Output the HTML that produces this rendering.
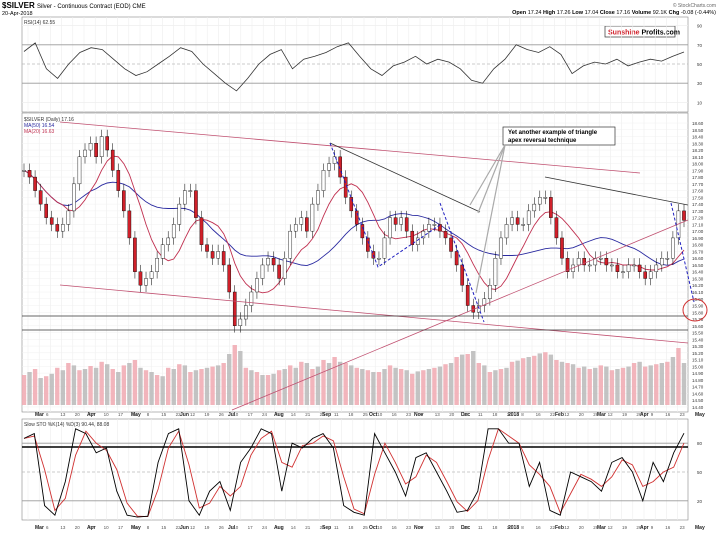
<!DOCTYPE html>
<html><head><meta charset="utf-8"><style>
body{margin:0;background:#fff;font-family:"Liberation Sans",sans-serif}
svg text{font-family:"Liberation Sans",sans-serif}
</style></head><body>
<svg id="c" width="720" height="532" xmlns="http://www.w3.org/2000/svg">
<rect width="720" height="532" fill="#fff"/>
<text x="2" y="8" font-size="8" font-weight="bold">$SILVER <tspan font-weight="normal" font-size="6">Silver - Continuous Contract (EOD) CME</tspan></text>
<text x="2" y="15" font-size="5.5">20-Apr-2018</text>
<text x="716" y="7" font-size="5" fill="#666" text-anchor="end">© StockCharts.com</text>
<text x="716" y="14" font-size="5.5" text-anchor="end"><tspan font-weight="bold">Open</tspan> 17.24 <tspan font-weight="bold">High</tspan> 17.26 <tspan font-weight="bold">Low</tspan> 17.04 <tspan font-weight="bold">Close</tspan> 17.16 <tspan font-weight="bold">Volume</tspan> 92.1K <tspan font-weight="bold">Chg</tspan> -0.08 (-0.44%)</text>
<g><rect x="605" y="26" width="70" height="11" fill="#fff" stroke="#333" stroke-width="0.7"/><text x="608" y="34.5" font-size="7" font-weight="bold" fill="#d0202a">Sunshine<tspan fill="#000"> Profits.com</tspan></text></g>
<g id="grid"></g>
<g id="rsi"></g><g id="price"></g><g id="sto"></g><g id="axes"></g>
</svg>
<script>
const closes=[17.9,17.8,17.6,17.4,17.2,17.1,17.0,17.1,17.3,17.7,18.1,18.2,18.3,18.1,18.4,18.2,17.9,17.6,17.3,16.9,16.4,16.2,16.3,16.4,16.6,16.8,16.9,17.1,17.4,17.6,17.6,17.2,16.8,16.7,16.6,16.7,16.5,16.1,15.6,15.7,15.9,16.1,16.3,16.5,16.6,16.5,16.3,16.6,17.0,17.1,17.2,17.0,17.4,17.6,17.9,18.0,18.1,17.8,17.5,17.3,17.1,16.9,16.7,16.6,16.6,16.9,17.2,17.1,17.2,17.0,16.8,16.9,17.0,17.1,17.1,17.0,16.9,16.7,16.5,16.2,15.9,15.8,15.9,16.0,16.2,16.6,16.9,17.1,17.2,17.1,17.1,17.3,17.4,17.5,17.5,17.2,16.9,16.6,16.4,16.5,16.6,16.5,16.5,16.6,16.6,16.5,16.5,16.4,16.4,16.5,16.5,16.4,16.3,16.4,16.5,16.6,16.6,16.9,17.3,17.16];
const volumes=[50,55,60,45,48,52,62,58,70,66,58,60,65,62,72,68,60,55,66,70,75,62,58,55,50,48,62,60,68,66,55,58,60,62,64,66,70,85,100,90,62,58,55,50,50,52,58,60,66,62,72,70,60,64,75,70,80,72,70,66,62,60,58,55,55,60,66,62,60,58,52,56,58,60,62,64,68,70,80,84,85,90,70,66,55,58,60,62,72,74,78,80,82,86,88,84,75,72,70,68,62,64,60,62,66,64,58,60,62,64,70,72,64,66,68,70,72,80,95,70];
const rsiVals=[63,72,45,35,50,62,67,65,55,45,38,42,50,58,67,63,50,40,30,22,35,50,60,65,45,55,58,62,68,72,58,45,38,48,52,58,50,55,52,45,33,30,45,55,70,65,62,68,60,40,48,52,50,55,48,52,55,53,58,62.5];
const stoK=[85,90,15,5,40,95,90,70,75,30,5,3,4,60,90,95,20,5,30,40,10,60,75,95,90,30,80,75,85,90,75,15,8,5,90,70,50,25,65,70,50,30,8,10,30,95,95,80,80,35,60,10,5,50,45,40,30,60,65,50,20,60,40,70,90.4];
const priceTicks=[];for(let p=18.6;p>14.35;p-=0.1)priceTicks.push(+p.toFixed(2));
const rsiTicks=[90,70,50,30,10];
const stoTicks=[80,50,20];
const monthLabels=[["Mar",35],["Apr",87],["May",131],["Jun",180],["Jul",228],["Aug",274],["Sep",322],["Oct",369],["Nov",414],["Dec",461],["2018",508],["Feb",555],["Mar",597],["Apr",640],["May",695]];
const dayLabels=["6","13","20","27","10","17","24","8","15","22","12","19","26","10","17","24","7","14","21","28","11","18","25","10","16","23","6","13","20","27","11","18","26","8","16","22","12","20","26","12","19","26","9","16","23"];
const NS="http://www.w3.org/2000/svg";
const X0=24,X1=684;
function mk(tag,attrs,parent){const e=document.createElementNS(NS,tag);for(const k in attrs)e.setAttribute(k,attrs[k]);parent.appendChild(e);return e;}
function xi(i,n){return X0+i*(X1-X0)/(n-1);}
const py=p=>123+(18.6-p)*67.6;
const ry=v=>112-v*0.96;
const sy=v=>520-v*0.96;
const grid=document.getElementById('grid');
[[17,112],[113,412],[419,520]].forEach(([a,b])=>{
 const r=mk('rect',{x:22,y:a,width:666,height:b-a,fill:'none',stroke:'#888','stroke-width':0.6},grid);
 
 for(let x=28;x<688;x+=11.2)mk('line',{x1:x,x2:x,y1:a,y2:b,stroke:'#eee','stroke-width':0.6},grid);
});
priceTicks.forEach(p=>{const y=py(p);mk('line',{x1:22,x2:688,y1:y,y2:y,stroke:'#f0f0f0','stroke-width':0.5},grid);
 const t=mk('text',{x:692,y:y+2,'font-size':4.5,fill:'#333'},grid);t.textContent=p.toFixed(2);});
rsiTicks.forEach(v=>{const y=ry(v);const st=(v==70||v==30)?'#999':(v==50?'#bbb':'#eee');
 mk('line',{x1:22,x2:688,y1:y,y2:y,stroke:st,'stroke-width':0.8,'stroke-dasharray':v==50?'3,2':''},grid);
 const t=mk('text',{x:697,y:y+2,'font-size':4.5,fill:'#333'},grid);t.textContent=v;});
stoTicks.forEach(v=>{const y=sy(v);mk('line',{x1:22,x2:688,y1:y,y2:y,stroke:v==50?'#bbb':'#999','stroke-width':0.8,'stroke-dasharray':v==50?'3,2':''},grid);
 const t=mk('text',{x:697,y:y+2,'font-size':4.5,fill:'#333'},grid);t.textContent=v;});
mk('line',{x1:22,x2:688,y1:447,y2:447,stroke:'#000','stroke-width':1.4},grid);
const rg=document.getElementById('rsi');
let rt=mk('text',{x:24,y:24,'font-size':5,fill:'#333'},rg);rt.textContent='RSI(14) 62.55';
let rl=mk('polyline',{points:rsiVals.map((v,i)=>xi(i,rsiVals.length).toFixed(1)+','+ry(v).toFixed(1)).join(' '),fill:'none',stroke:'#333','stroke-width':0.8},rg);
const pg=document.getElementById('price');
let lt=mk('text',{x:24,y:121,'font-size':5,fill:'#333'},pg);lt.textContent='$SILVER (Daily) 17.16';
let l2=mk('text',{x:24,y:127,'font-size':5,fill:'#2a2aa0'},pg);l2.textContent='MA(50) 16.54';
let l3=mk('text',{x:24,y:133,'font-size':5,fill:'#c03050'},pg);l3.textContent='MA(20) 16.63';
volumes.forEach((v,i)=>{const x=xi(i,volumes.length);const h=v*0.6;
 const b=mk('rect',{x:x-2.2,y:405-h,width:4.4,height:h,fill:i%2?'#b8b8b8':'#f0a8b0',opacity:0.85},pg);
 });
function ma(n){return closes.map((c,i)=>{const s=closes.slice(Math.max(0,i-n+1),i+1);return s.reduce((a,b)=>a+b,0)/s.length;});}
[[ma(20),'#2a2aa0','ma50-line'],[ma(8),'#c03050','ma20-line']].forEach(([arr,col,nm])=>{
 const l=mk('polyline',{points:arr.map((v,i)=>xi(i,arr.length).toFixed(1)+','+py(v).toFixed(1)).join(' '),fill:'none',stroke:col,'stroke-width':0.9},pg);
 });
closes.forEach((c,i)=>{const o=i?closes[i-1]:c;const x=xi(i,closes.length);
 const hi=Math.max(o,c)+0.1,lo=Math.min(o,c)-0.1;
 mk('line',{x1:x,x2:x,y1:py(hi),y2:py(lo),stroke:'#000','stroke-width':0.5},pg);
 const r=mk('rect',{x:x-1.6,y:py(Math.max(o,c)),width:3.2,height:Math.max(1,Math.abs(py(o)-py(c))),fill:c<o?'#d0202a':'#fff',stroke:'#000','stroke-width':0.4},pg);
 });
const ann=[[60,122,640,173,'#c05070'],[60,285,688,343,'#c05070'],[330,143,480,212,'#333'],[545,177,688,205,'#333'],[232,410,688,220,'#c05070'],[22,316,688,316,'#333'],[22,330,688,330,'#333']];
ann.forEach(a=>{const l=mk('line',{x1:a[0],y1:a[1],x2:a[2],y2:a[3],stroke:a[4],'stroke-width':0.8},pg);});
mk('polyline',{points:'330,143 378,267 440,225',fill:'none',stroke:'#2020c0','stroke-width':1,'stroke-dasharray':'3,2'},pg);
mk('polyline',{points:'440,203 484,322',fill:'none',stroke:'#2020c0','stroke-width':1,'stroke-dasharray':'3,2'},pg);
mk('polyline',{points:'671,203 694,302',fill:'none',stroke:'#2020c0','stroke-width':1,'stroke-dasharray':'3,2'},pg);
let ell=mk('ellipse',{cx:695,cy:310,rx:12,ry:11,fill:'none',stroke:'#d03030','stroke-width':1},pg);
let box=mk('rect',{x:503,y:127,width:112,height:18,fill:'#fff',stroke:'#333','stroke-width':0.7},pg);
let at=mk('text',{x:508,y:134,'font-size':6,'font-weight':'bold'},pg);at.textContent='Yet another example of triangle';
let at2=mk('text',{x:508,y:142,'font-size':6,'font-weight':'bold'},pg);at2.textContent='apex reversal technique';
[[478,213],[476,293],[470,205]].forEach(p=>mk('line',{x1:p[0],y1:p[1],x2:505,y2:145,stroke:'#aaa','stroke-width':1.2},pg));
const sg=document.getElementById('sto');
let stt=mk('text',{x:24,y:426,'font-size':5,fill:'#333'},sg);stt.textContent='Slow STO %K(14) %D(3) 90.44, 88.08';
const stoD=stoK.map((v,i)=>{const s=stoK.slice(Math.max(0,i-1),i+1);return s.reduce((a,b)=>a+b,0)/s.length;});
[[stoD,'#d03030','sto-d-line'],[stoK,'#000','sto-k-line']].forEach(([arr,col,nm])=>{
 const l=mk('polyline',{points:arr.map((v,i)=>xi(i,arr.length).toFixed(1)+','+sy(v).toFixed(1)).join(' '),fill:'none',stroke:col,'stroke-width':0.9},sg);
 });
const ax=document.getElementById('axes');
[416,529].forEach(y=>{
 monthLabels.forEach(m=>{const t=mk('text',{x:m[1],y:y,'font-size':5,'font-weight':'bold',fill:'#222'},ax);t.textContent=m[0];});
 dayLabels.forEach((d,i)=>{const x=46+i*14.4;const t=mk('text',{x:x,y:y,'font-size':4.5,fill:'#555'},ax);t.textContent=d;});
});
</script>
</body></html>
